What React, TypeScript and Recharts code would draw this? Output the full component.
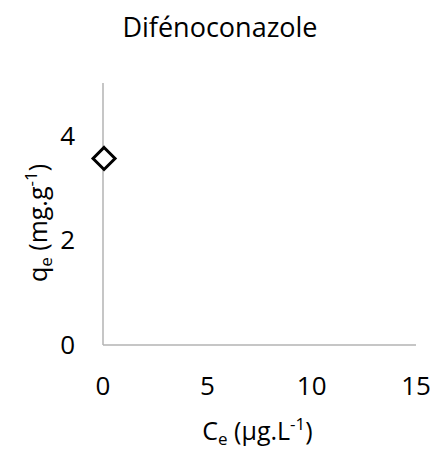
import { ScatterChart, Scatter, XAxis, YAxis, Label } from "recharts";

// Difénoconazole adsorption point
const ceValues = [0.05];
const qeValues = [3.56];
const xTicks = [0, 5, 10, 15];
const yTicks = [0, 2, 4];
const title = "Difénoconazole";

const data = ceValues.map((ce, i) => ({ ce, qe: qeValues[i] }));

const FONT = "'Open Sans', sans-serif";

const Diamond = (props: any) => {
  const { cx, cy } = props;
  const r = 11;
  return (
    <path
      d={`M${cx},${cy - r} L${cx + r},${cy} L${cx},${cy + r} L${cx - r},${cy} Z`}
      fill="#fff"
      stroke="#000"
      strokeWidth={3}
      strokeLinejoin="miter"
    />
  );
};

const XLabel = () => {
  const x = 257.5;
  const y = 440;
  return (
    <text x={x} y={y} textAnchor="middle" fontFamily={FONT} fontSize={25} fill="#000">
      C<tspan fontSize={17} dy={5}>e</tspan>
      <tspan dy={-5}> (µg.L</tspan>
      <tspan fontSize={17} dy={-10}>-1</tspan>
      <tspan dy={10}>)</tspan>
    </text>
  );
};

const YLabel = () => {
  const x = 47;
  const y = 223;
  return (
    <text
      x={x}
      y={y}
      textAnchor="middle"
      fontFamily={FONT}
      fontSize={25}
      fill="#000"
      transform={`rotate(-90 ${x} ${y})`}
    >
      q<tspan fontSize={17} dy={5}>e</tspan>
      <tspan dy={-5}> (mg.g</tspan>
      <tspan fontSize={17} dy={-10}>-1</tspan>
      <tspan dy={10}>)</tspan>
    </text>
  );
};

export default function App() {
  return (
    <div style={{ position: "absolute", top: 0, left: 0, width: 439, height: 461, background: "#fff" }}>
      <svg width={439} height={60} style={{ position: "absolute", top: 0, left: 0 }}>
        <text x={220} y={37} textAnchor="middle" fontFamily={FONT} fontSize={27} fill="#000">
          {title}
        </text>
      </svg>
      <ScatterChart width={439} height={461} margin={{ top: 83, right: 23, bottom: 66, left: 43 }}>
        <XAxis
          type="number"
          dataKey="ce"
          domain={[0, 15]}
          ticks={xTicks}
          tickLine={false}
          stroke="#b3b3b3"
          strokeWidth={1.5}
          tick={{ fill: "#000", fontSize: 26, fontFamily: FONT }}
          tickMargin={26}
          height={50}
        >
          <Label content={<XLabel />} />
        </XAxis>
        <YAxis
          type="number"
          dataKey="qe"
          domain={[0, 5]}
          ticks={yTicks}
          tickLine={false}
          stroke="#b3b3b3"
          strokeWidth={1.5}
          tick={{ fill: "#000", fontSize: 26, fontFamily: FONT }}
          tickMargin={22}
          width={60}
        >
          <Label content={<YLabel />} />
        </YAxis>
        <Scatter data={data} shape={<Diamond />} isAnimationActive={false} />
      </ScatterChart>
    </div>
  );
}
